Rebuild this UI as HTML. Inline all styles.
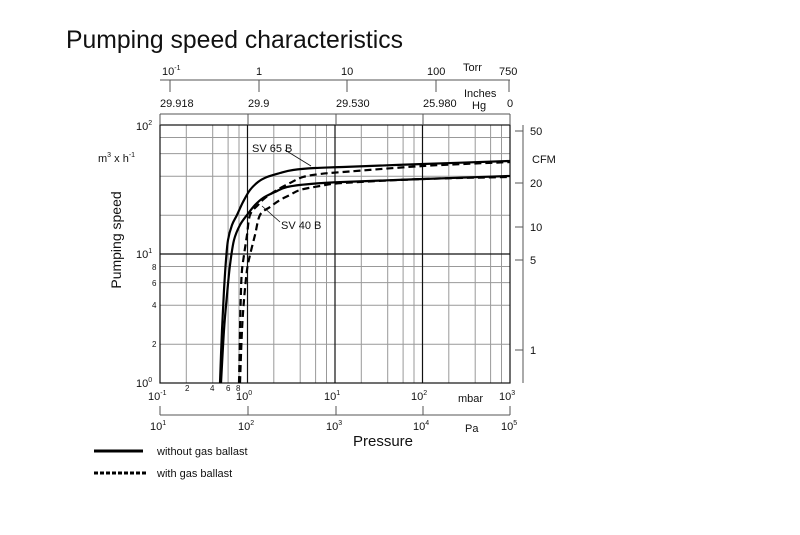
<!DOCTYPE html>
<html><head><meta charset="utf-8"><style>
html,body{margin:0;padding:0;background:#fff;}
svg{display:block;font-family:"Liberation Sans",Arial,sans-serif;}
</style></head><body>
<svg id="s" width="800" height="535" viewBox="0 0 800 535" xmlns="http://www.w3.org/2000/svg">
<rect width="800" height="535" fill="#fff"/>
<text x="66" y="48" font-size="25" textLength="337" lengthAdjust="spacingAndGlyphs" fill="#111">Pumping speed characteristics</text>

<g stroke="#999" stroke-width="1" fill="none">
<path d="M186.3,125V383M212.7,125V383M228.1,125V383M239,125V383M273.8,125V383M300.2,125V383M315.6,125V383M326.5,125V383M361.3,125V383M387.7,125V383M403.1,125V383M414,125V383M448.8,125V383M475.2,125V383M490.6,125V383M501.5,125V383"/>
<path d="M160,344.2H510M160,305.3H510M160,282.6H510M160,266.5H510M160,215.2H510M160,176.3H510M160,153.6H510M160,137.5H510"/>
</g>
<g stroke="#111" stroke-width="1.2" fill="none">
<rect x="160" y="125" width="350" height="258"/>
<path d="M247.5,125V383M335,125V383M422.5,125V383M160,254H510"/>
</g>

<g stroke="#555" stroke-width="1" fill="none">
<path d="M160,80H510M170,80V92M259,80V92M347,80V92M436,80V92M509,80V92"/>
<path d="M160,114H510M160,114V125M248,114V125M336,114V125M423,114V125M510,114V125"/>
<path d="M523,125V383M515,131H523M515,183H523M515,227H523M515,260H523M515,350H523"/>
<path d="M160,415H510M160,406V415M248,406V415M336,406V415M423,406V415M510,406V415"/>
</g>
<g font-size="11" fill="#111">
<text x="162" y="75">10<tspan font-size="7" dy="-5">-1</tspan></text>
<text x="256" y="75">1</text>
<text x="341" y="75">10</text>
<text x="427" y="75">100</text>
<text x="463" y="71">Torr</text>
<text x="499" y="75">750</text>
<text x="464" y="97">Inches</text>
<text x="472" y="109">Hg</text>
<text x="160" y="107">29.918</text>
<text x="248" y="107">29.9</text>
<text x="336" y="107">29.530</text>
<text x="423" y="107">25.980</text>
<text x="507" y="107">0</text>
<text x="530" y="135">50</text>
<text x="532" y="163">CFM</text>
<text x="530" y="187">20</text>
<text x="530" y="231">10</text>
<text x="530" y="264">5</text>
<text x="530" y="354">1</text>
<text x="136" y="130">10<tspan font-size="7" dy="-5">2</tspan></text>
<text x="136" y="258">10<tspan font-size="7" dy="-5">1</tspan></text>
<text x="136" y="387">10<tspan font-size="7" dy="-5">0</tspan></text>
<text x="98" y="162">m<tspan font-size="7" dy="-5">3</tspan><tspan dy="5"> x h</tspan><tspan font-size="7" dy="-5">-1</tspan></text>
<text x="148" y="400">10<tspan font-size="7" dy="-5">-1</tspan></text>
<text x="236" y="400">10<tspan font-size="7" dy="-5">0</tspan></text>
<text x="324" y="400">10<tspan font-size="7" dy="-5">1</tspan></text>
<text x="411" y="400">10<tspan font-size="7" dy="-5">2</tspan></text>
<text x="458" y="402">mbar</text>
<text x="499" y="400">10<tspan font-size="7" dy="-5">3</tspan></text>
<text x="150" y="430">10<tspan font-size="7" dy="-5">1</tspan></text>
<text x="238" y="430">10<tspan font-size="7" dy="-5">2</tspan></text>
<text x="326" y="430">10<tspan font-size="7" dy="-5">3</tspan></text>
<text x="413" y="430">10<tspan font-size="7" dy="-5">4</tspan></text>
<text x="465" y="432">Pa</text>
<text x="501" y="430">10<tspan font-size="7" dy="-5">5</tspan></text>
</g>
<g font-size="8" fill="#111">
<text x="152" y="270">8</text><text x="152" y="286">6</text><text x="152" y="308">4</text><text x="152" y="347">2</text>
<text x="185" y="391">2</text><text x="210" y="391">4</text><text x="226" y="391">6</text><text x="236" y="391">8</text>
</g>
<text x="353" y="446" font-size="15" fill="#111">Pressure</text>
<text transform="translate(121,240) rotate(-90)" font-size="14" text-anchor="middle" fill="#111">Pumping speed</text>

<g id="curves" fill="none" stroke="#000" stroke-width="2.2" stroke-linejoin="round" stroke-linecap="butt">
<path d="" data-p="220,383 222,330 224,290 226,260 228,240 232,225 237,215 243,202 250,190 258,182 267,177 280,173 293,170 315,168 343,167 423,164 510,161"/>
<path d="" data-p="221,383 224,330 227,295 230,265 234,240 240,225 247,215 255,205 263,198 275,192 287,187 310,184 343,182 423,179 510,176"/>
<path d="" stroke-dasharray="7,4" data-p="239,383 240,330 241,290 242,270 244,255 247,235 250,215 258,205 265,198 277,190 290,183 303,177 320,174 343,172 423,166 510,162"/>
<path d="" stroke-dasharray="7,4" data-p="240,383 242,330 244,300 247,270 250,255 255,235 260,215 270,207 280,200 290,195 300,190 320,186 343,183 423,179 510,177"/>
</g>
<g stroke="#111" stroke-width="0.8"><path d="M285,150L311,166M262,206L280,222"/></g>
<g font-size="11" fill="#111">
<text x="252" y="152">SV 65 B</text>
<text x="281" y="229">SV 40 B</text>
</g>

<path d="M94,451H143" stroke="#000" stroke-width="3"/>
<path d="M94,473H147" stroke="#000" stroke-width="3" stroke-dasharray="4,2"/>
<g font-size="11" fill="#111">
<text x="157" y="455">without gas ballast</text>
<text x="157" y="477">with gas ballast</text>
</g>
</svg>
<script>
document.querySelectorAll('#curves path').forEach(function(el){
  var p=el.getAttribute('data-p').trim().split(/\s+/).map(function(s){return s.split(',').map(Number);});
  var d='M'+p[0][0]+','+p[0][1];
  for(var i=0;i<p.length-1;i++){
    var p0=p[i-1]||p[i],p1=p[i],p2=p[i+1],p3=p[i+2]||p2;
    var c1=[p1[0]+(p2[0]-p0[0])/6,p1[1]+(p2[1]-p0[1])/6];
    var c2=[p2[0]-(p3[0]-p1[0])/6,p2[1]-(p3[1]-p1[1])/6];
    d+='C'+c1[0].toFixed(1)+','+c1[1].toFixed(1)+' '+c2[0].toFixed(1)+','+c2[1].toFixed(1)+' '+p2[0]+','+p2[1];
  }
  el.setAttribute('d',d);
});
</script>
</body></html>
